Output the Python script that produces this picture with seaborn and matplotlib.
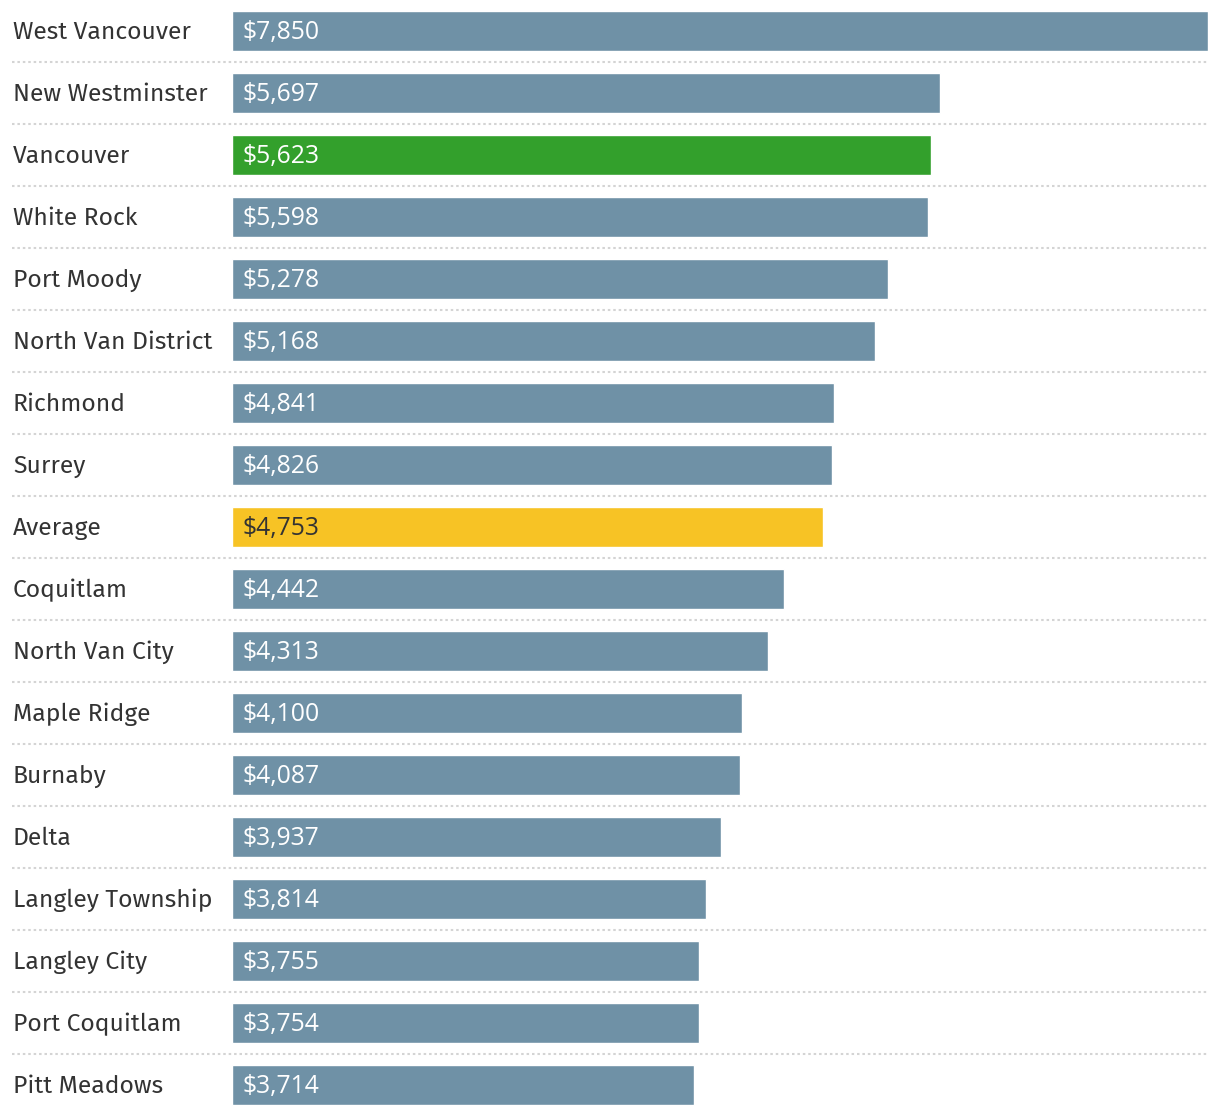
import matplotlib.pyplot as plt
import matplotlib.transforms as mtransforms
import seaborn as sns
import pandas as pd

# Data
cities = ['West Vancouver', 'New Westminster', 'Vancouver', 'White Rock',
          'Port Moody', 'North Van District', 'Richmond', 'Surrey', 'Average',
          'Coquitlam', 'North Van City', 'Maple Ridge', 'Burnaby', 'Delta',
          'Langley Township', 'Langley City', 'Port Coquitlam', 'Pitt Meadows']
values = [7850, 5697, 5623, 5598, 5278, 5168, 4841, 4826, 4753,
          4442, 4313, 4100, 4087, 3937, 3814, 3755, 3754, 3714]

base_color = '#6f91a6'
special_colors = {'Vancouver': '#33a02c', 'Average': '#f7c325'}
colors = {c: special_colors.get(c, base_color) for c in cities}

df = pd.DataFrame({'City': cities, 'Value': values})

sns.set_style('white')
plt.rcParams['font.family'] = ['Fira Sans', 'Noto Sans', 'DejaVu Sans']

fig = plt.figure(figsize=(12.2, 11.14), dpi=100)
ax = fig.add_axes([232 / 1220, 0, 976 / 1220, 1])

sns.barplot(data=df, y='City', x='Value', hue='City', palette=colors,
            order=cities, orient='h', width=0.645, legend=False,
            saturation=1, ax=ax)

ax.set_xlim(0, 7850)
ax.set_ylim(17.468, -0.5)
ax.axis('off')

# Dotted separators, running under the labels too
for i in range(len(cities) - 1):
    ax.plot([-0.2254, 1.0], [i + 0.5, i + 0.5], transform=ax.get_yaxis_transform(),
            color='#d4d4d4', linestyle=(0, (1.2, 1.4)), linewidth=1.5,
            clip_on=False, zorder=0)

# City names on the left and values inside the bars
value_offset = mtransforms.offset_copy(ax.transData, fig=fig, x=11, y=-2,
                                       units='dots')
for i, (city, val) in enumerate(zip(cities, values)):
    ax.text(-0.2244, i + 0.02, city, transform=ax.get_yaxis_transform(),
            ha='left', va='center', fontsize=17.8, color='#333333')
    ax.text(0, i, f'${val:,}', transform=value_offset, ha='left',
            va='center', fontsize=17.8, family=['Open Sans', 'DejaVu Sans'],
            color='#333333' if city == 'Average' else 'white')

fig.savefig('out.png', dpi=100)
